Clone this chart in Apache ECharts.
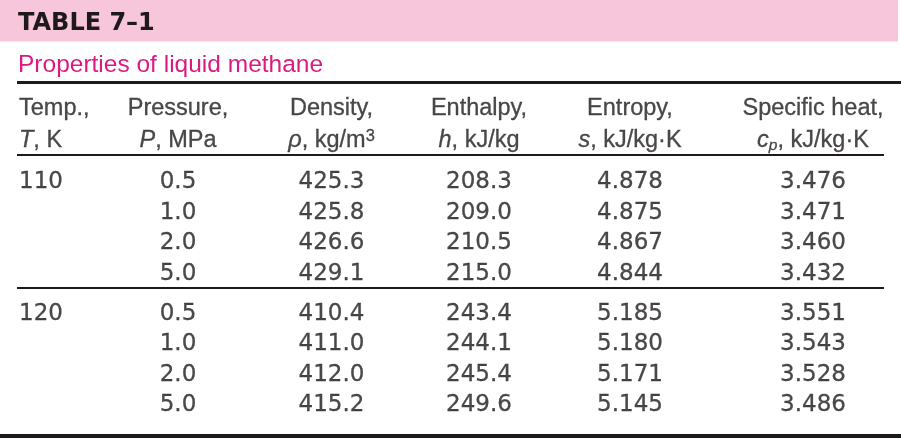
<!DOCTYPE html>
<html>
<head>
<meta charset="utf-8">
<script src="https://cdn.jsdelivr.net/npm/echarts@6/dist/echarts.min.js"></script>
<style>html,body{margin:0;padding:0;background:#fff;}#c{width:901px;height:439px;}</style>
</head>
<body>
<div id="c"></div>
<script>
// ---- table content ----
const tableTitle = 'TABLE 7–1';
const tableSubtitle = 'Properties of liquid methane';
const headerLine1 = ['Temp.,', 'Pressure,', 'Density,', 'Enthalpy,', 'Entropy,', 'Specific heat,'];
const headerLine2 = ['{i|T}, K', '{i|P}, MPa', '{i|ρ}, kg/m{sup|3}', '{i|h}, kJ/kg', '{i|s}, kJ/kg·K', '{i|c}{sub|p}, kJ/kg·K'];
const temperatures = [110, 120];
const pressures = [0.5, 1.0, 2.0, 5.0];
const density = [425.3, 425.8, 426.6, 429.1, 410.4, 411.0, 412.0, 415.2];
const enthalpy = [208.3, 209.0, 210.5, 215.0, 243.4, 244.1, 245.4, 249.6];
const entropy = [4.878, 4.875, 4.867, 4.844, 5.185, 5.180, 5.171, 5.145];
const specificHeat = [3.476, 3.471, 3.460, 3.432, 3.551, 3.543, 3.528, 3.486];
const decimals = [0, 1, 1, 1, 3, 3];

// ---- layout (styling only) ----
const colX = [19, 178, 331.5, 479, 630, 813];
const colAlign = ['left', 'center', 'center', 'center', 'center', 'center'];
const headerY = [109, 140.5];
const groupY = [182.5, 314];
const rowStep = 30.5;
const textColor = '#1e1a1b';
const numFont = 'DejaVu Sans';
const txtFont = 'Liberation Sans';
const strokeW = 0.3;

function cellLabel(text, c, font, size) {
  return { formatter: text, align: colAlign[c], fontFamily: font, fontSize: size,
           color: textColor, textBorderColor: textColor, textBorderWidth: strokeW, textShadowBlur: 0 };
}

const cells = [];
headerLine1.forEach((t, c) => cells.push({ value: [colX[c], headerY[0]], label: cellLabel(t, c, txtFont, 23.5) }));
headerLine2.forEach((t, c) => cells.push({ value: [colX[c], headerY[1]], label: cellLabel(t, c, txtFont, 23.5) }));
temperatures.forEach((T, g) => {
  pressures.forEach((P, r) => {
    const idx = g * pressures.length + r;
    const y = groupY[g] + r * rowStep;
    const rowVals = [r === 0 ? T : null, P, density[idx], enthalpy[idx], entropy[idx], specificHeat[idx]];
    rowVals.forEach((v, c) => {
      if (v === null) return;
      cells.push({ value: [colX[c], y], label: cellLabel(v.toFixed(decimals[c]), c, numFont, 23) });
    });
  });
});

const rich = {
  i: { fontFamily: txtFont, fontSize: 23.5, fontStyle: 'italic', color: textColor, lineHeight: 26,
       textBorderColor: textColor, textBorderWidth: strokeW },
  sup: { fontFamily: txtFont, fontSize: 16.5, color: textColor, verticalAlign: 'top', lineHeight: 12,
         textBorderColor: textColor, textBorderWidth: strokeW },
  sub: { fontFamily: txtFont, fontSize: 15.5, fontStyle: 'italic', color: textColor, verticalAlign: 'bottom', lineHeight: 14,
         textBorderColor: textColor, textBorderWidth: strokeW }
};

const chart = echarts.init(document.getElementById('c'), null, { renderer: 'canvas' });
chart.setOption({
  animation: false,
  backgroundColor: '#ffffff',
  title: [
    { text: tableTitle, left: 18, top: 12, padding: 0,
      textStyle: { fontFamily: 'DejaVu Sans', fontWeight: 'bold', fontSize: 24, color: textColor } },
    { text: tableSubtitle, left: 18, top: 53, padding: 0,
      textStyle: { fontFamily: txtFont, fontWeight: 'normal', fontSize: 24.5, color: '#dc1a82' } }
  ],
  grid: { left: 0, right: 0, top: 0, bottom: 0, containLabel: false },
  xAxis: { type: 'value', min: 0, max: 901, show: false },
  yAxis: { type: 'value', min: 0, max: 439, inverse: true, show: false },
  series: [{
    type: 'scatter',
    symbolSize: 1,
    itemStyle: { color: 'rgba(255,255,255,0)' },
    silent: true,
    z: 5,
    label: {
      show: true, position: 'inside', color: textColor, lineHeight: 26, rich: rich
    },
    data: cells,
    markArea: {
      silent: true,
      itemStyle: { color: '#f8c6db' },
      data: [[{ coord: [0, 0] }, { coord: [898, 41.5] }]]
    },
    markLine: {
      silent: true,
      symbol: ['none', 'none'],
      label: { show: false },
      data: [
        [{ coord: [17, 82.5], lineStyle: { width: 3, color: textColor, type: 'solid' } }, { coord: [901, 82.5] }],
        [{ coord: [17, 154.5], lineStyle: { width: 2, color: textColor, type: 'solid' } }, { coord: [884, 154.5] }],
        [{ coord: [17, 287.5], lineStyle: { width: 2, color: textColor, type: 'solid' } }, { coord: [884, 287.5] }],
        [{ coord: [0, 436], lineStyle: { width: 4, color: textColor, type: 'solid' } }, { coord: [901, 436] }]
      ]
    }
  }]
});
</script>
</body>
</html>
